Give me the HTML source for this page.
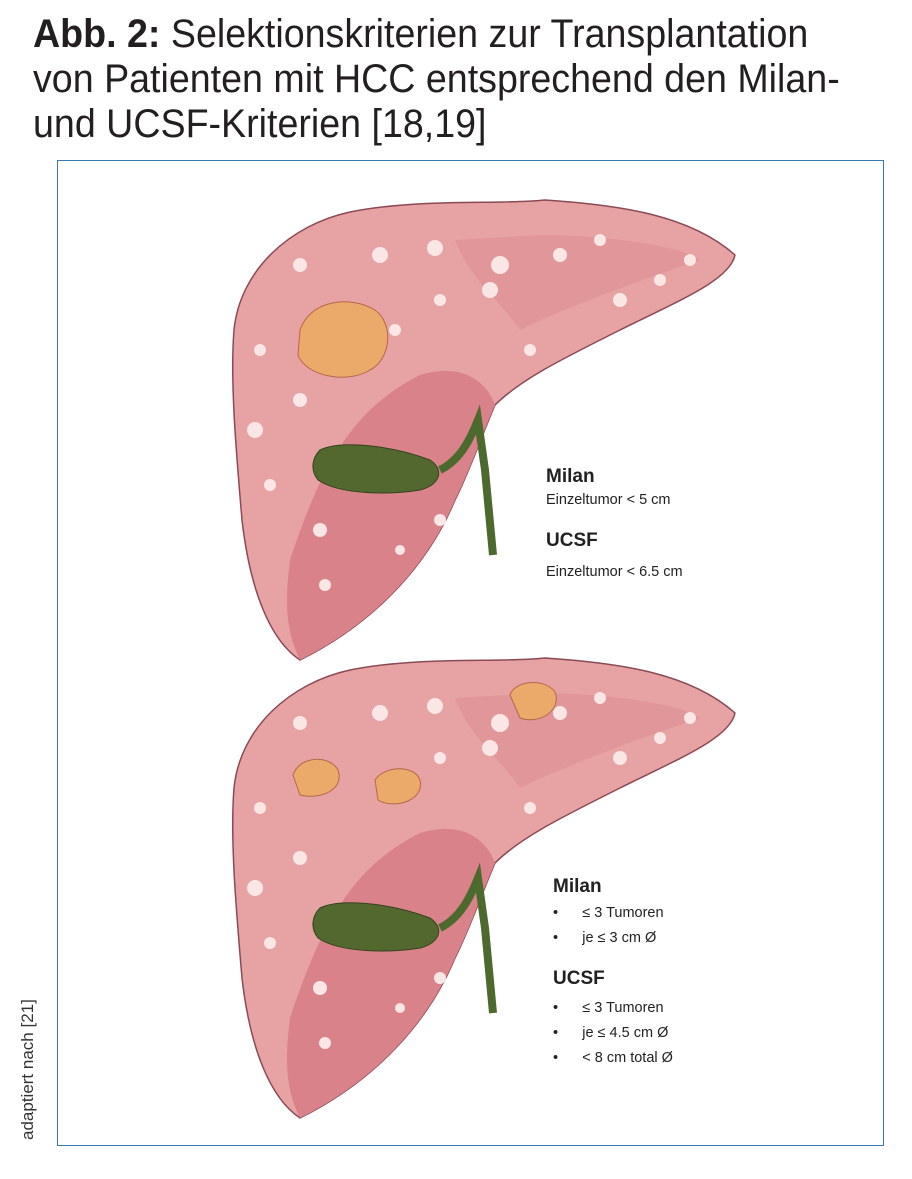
<!DOCTYPE html>
<html><head><meta charset="utf-8"><style>
body{margin:0;width:912px;height:1179px;background:#fff;position:relative;overflow:hidden;font-family:"Liberation Sans",sans-serif}
.t{position:absolute;left:33px;top:12px;font-family:"Liberation Sans Narrow","Liberation Sans",sans-serif;font-size:40px;line-height:45px;color:#231f20;transform:scaleX(0.94);transform-origin:0 0;white-space:nowrap}
.box{position:absolute;left:57px;top:160px;width:825px;height:984px;border:1.5px solid #3a78b5}
.r{position:absolute;left:18px;top:1140px;transform:rotate(-90deg);transform-origin:0 0;font-size:17px;color:#333;white-space:nowrap}
.l{position:absolute;font-family:"Liberation Sans",sans-serif;color:#222;white-space:nowrap}
.h{font-weight:bold;font-size:19px}.s{font-size:14.5px}
</style></head><body>
<div class="t"><b>Abb. 2:</b> Selektionskriterien zur Transplantation<br>von Patienten mit HCC entsprechend den Milan-<br>und UCSF-Kriterien [18,19]</div>
<div class="box"></div>
<div class="r">adaptiert nach [21]</div>
<svg width="912" height="1179" style="position:absolute;left:0;top:0">
<defs><g id="liv">
<path d="M234,330 C240,270 290,225 350,212 C420,198 500,205 545,200 C620,205 690,215 735,255 C730,280 680,300 620,330 C560,360 520,380 495,405 C480,440 470,470 455,500 C430,560 380,620 300,660 C270,640 250,590 242,520 C236,450 230,380 234,330 Z" fill="#e7a3a3" stroke="#8b4a55" stroke-width="1.5"/>
<path d="M455,240 C470,280 500,300 520,330 C560,310 640,280 700,260 C680,245 600,235 540,235 Z" fill="#de8d92" opacity=".6"/>
<path d="M290,560 C320,470 350,410 420,375 C470,360 490,390 495,405 C480,440 470,470 455,500 C430,560 380,620 300,660 C285,630 285,600 290,560 Z" fill="#d9828a"/>
<path d="M320,450 C340,440 390,445 430,460 C445,470 440,485 420,490 C390,495 340,495 318,480 C310,470 312,458 320,450 Z" fill="#53682f" stroke="#34431c"/>
<path d="M440,470 C460,460 470,440 478,420 L485,470 L493,555" stroke="#4d6a2e" stroke-width="8" fill="none"/>
<g fill="#fbe6e6"><circle cx="300" cy="265" r="7"/><circle cx="380" cy="255" r="8"/><circle cx="435" cy="248" r="8"/><circle cx="500" cy="265" r="9"/><circle cx="560" cy="255" r="7"/><circle cx="600" cy="240" r="6"/><circle cx="690" cy="260" r="6"/><circle cx="620" cy="300" r="7"/><circle cx="660" cy="280" r="6"/><circle cx="490" cy="290" r="8"/><circle cx="260" cy="350" r="6"/><circle cx="300" cy="400" r="7"/><circle cx="255" cy="430" r="8"/><circle cx="270" cy="485" r="6"/><circle cx="320" cy="530" r="7"/><circle cx="325" cy="585" r="6"/><circle cx="395" cy="330" r="6"/><circle cx="440" cy="300" r="6"/><circle cx="530" cy="350" r="6"/><circle cx="440" cy="520" r="6"/><circle cx="400" cy="550" r="5"/></g>
</g></defs>
<use href="#liv"/>
<use href="#liv" transform="translate(0,458)"/>
<path d="M300,330 C310,300 350,295 375,310 C395,325 390,360 370,370 C345,385 305,375 298,355 Z" fill="#eba96a" stroke="#b5674a"/>
<path d="M293,775 C300,755 330,755 338,770 C345,790 320,800 300,795 Z" fill="#eba96a" stroke="#b5674a"/>
<path d="M375,780 C385,765 415,765 420,780 C425,800 395,810 378,800 Z" fill="#eba96a" stroke="#b5674a"/>
<path d="M510,695 C515,680 545,678 555,692 C562,710 540,725 520,718 Z" fill="#eba96a" stroke="#b5674a"/>
</svg>
<div class="l h" style="left:546px;top:466px">Milan</div>
<div class="l s" style="left:546px;top:492px">Einzeltumor &lt; 5 cm</div>
<div class="l h" style="left:546px;top:530px">UCSF</div>
<div class="l s" style="left:546px;top:564px">Einzeltumor &lt; 6.5 cm</div>
<div class="l h" style="left:553px;top:876px">Milan</div>
<div class="l s" style="left:553px;top:905px">•&nbsp;&nbsp;&nbsp;&nbsp;&nbsp;&nbsp;≤ 3 Tumoren</div>
<div class="l s" style="left:553px;top:930px">•&nbsp;&nbsp;&nbsp;&nbsp;&nbsp;&nbsp;je ≤ 3 cm Ø</div>
<div class="l h" style="left:553px;top:968px">UCSF</div>
<div class="l s" style="left:553px;top:1000px">•&nbsp;&nbsp;&nbsp;&nbsp;&nbsp;&nbsp;≤ 3 Tumoren</div>
<div class="l s" style="left:553px;top:1025px">•&nbsp;&nbsp;&nbsp;&nbsp;&nbsp;&nbsp;je ≤ 4.5 cm Ø</div>
<div class="l s" style="left:553px;top:1050px">•&nbsp;&nbsp;&nbsp;&nbsp;&nbsp;&nbsp;&lt; 8 cm total Ø</div>
</body></html>
